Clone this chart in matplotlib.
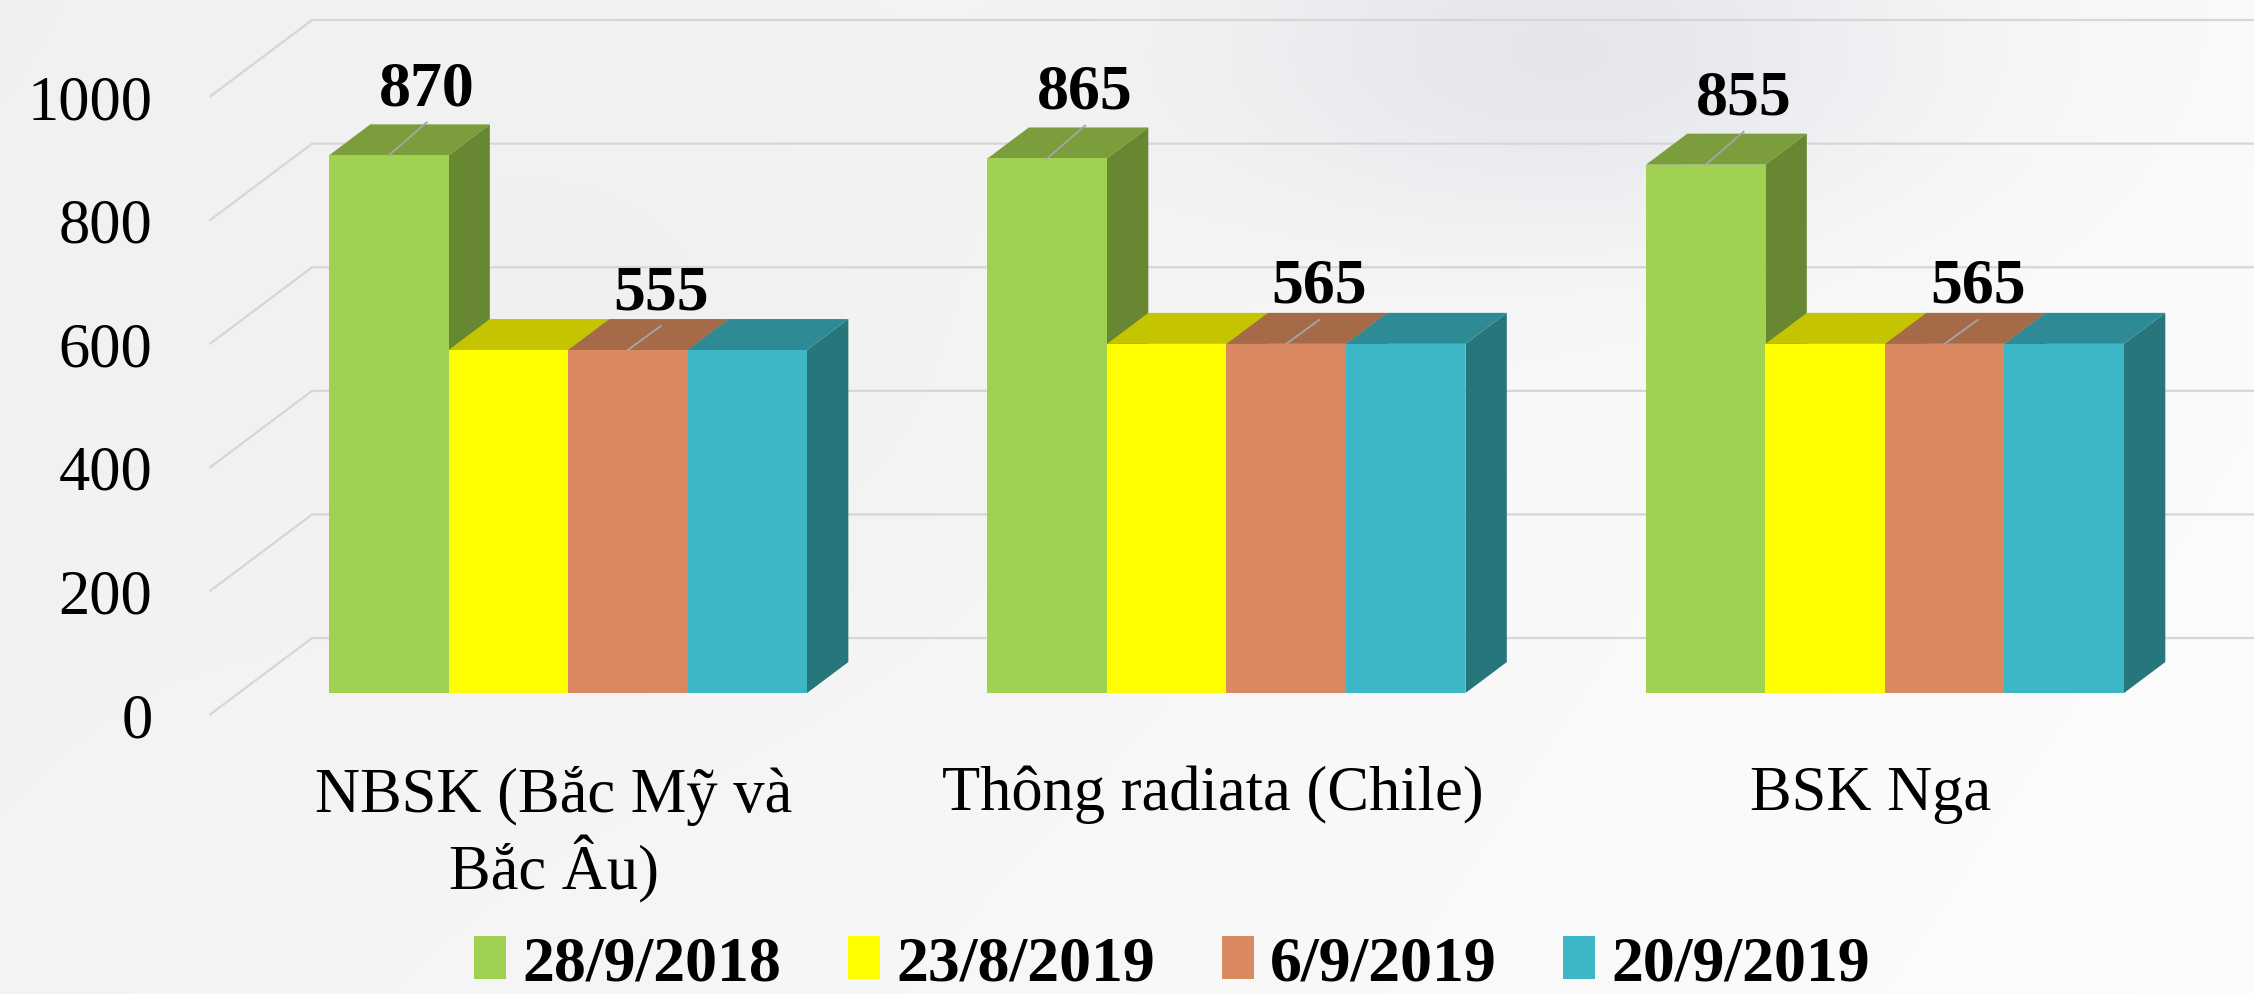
import numpy as np
import matplotlib
matplotlib.use('Agg')
import matplotlib.pyplot as plt
from matplotlib.patches import Polygon, Patch
from matplotlib.font_manager import FontProperties

# ---------------- data ----------------
categories = ['NBSK (Bắc Mỹ và\nBắc Âu)', 'Thông radiata (Chile)', 'BSK Nga']
series_labels = ['28/9/2018', '23/8/2019', '6/9/2019', '20/9/2019']
s_28_9_2018 = [870, 865, 855]
s_23_8_2019 = [555, 565, 565]
s_6_9_2019 = [555, 565, 565]
s_20_9_2019 = [555, 565, 565]
series_values = [s_28_9_2018, s_23_8_2019, s_6_9_2019, s_20_9_2019]
labelled_series = [0, 2]
yticks = [0, 200, 400, 600, 800, 1000]

# ---------------- style ----------------
front_cols = ['#a0d150', '#ffff00', '#d9885f', '#3db7c6']
top_cols = ['#7b9d3b', '#c4c400', '#a56a47', '#2e8a94']
side_cols = ['#678733', '#b5b500', '#8f5a3b', '#26767c']
# leader line end offsets (pixels right, pixels up) per labelled series
leader_px = {0: (38, 33), 2: (33, 24)}
SERIF = 'Liberation Serif'

W_PX, H_PX = 2254, 994
fig = plt.figure(figsize=(W_PX / 100, H_PX / 100), dpi=100)

# background
bg = fig.add_axes([0, 0, 1, 1], zorder=0)
gx, gy = np.meshgrid(np.linspace(0, 1, 240), np.linspace(0, 1, 110))
lum = 0.945 + 0.035 * gx + 0.01 * gy
blob = np.exp(-(((gx - 0.70) / 0.16) ** 2 + ((gy - 0.05) / 0.18) ** 2))
blob2 = np.exp(-(((gx - 0.30) / 0.20) ** 2 + ((gy - 0.35) / 0.35) ** 2))
img = np.stack([lum - 0.07 * blob - 0.012 * blob2,
                lum - 0.065 * blob - 0.014 * blob2,
                lum - 0.045 * blob - 0.016 * blob2], axis=-1)
img = np.clip(img, 0, 1)
bg.imshow(img, aspect='auto', extent=[0, 1, 1, 0], interpolation='bicubic')
bg.axis('off')

ax = fig.add_axes([0, 0, 1, 1], zorder=1)
ax.patch.set_alpha(0)
X_LIM = (-0.8626, 2.5604)
V_LIM = (-487, 1121.4)
ax.set_xlim(*X_LIM)
ax.set_ylim(*V_LIM)
ax.axis('off')

px_x = W_PX / (X_LIM[1] - X_LIM[0])
px_v = H_PX / (V_LIM[1] - V_LIM[0])
# oblique depth direction (per unit of depth in vertical pixels)
DX = 1.333 / px_x
DV = 1.0 / px_v
D_FLOOR, D_BAR, D_WALL = -22, 31, 55


def P(x, v, d):
    return (x + d * DX, v + d * DV)


# gridlines (front-left diagonal + back wall)
x_left = -0.5
for v in yticks:
    a = P(x_left, v, D_FLOOR)
    b = P(x_left, v, D_WALL)
    ax.plot([a[0], b[0], X_LIM[1] + 0.2], [a[1], b[1], b[1]],
            color='#d6d6d6', lw=1.6, zorder=1, solid_capstyle='butt')
    ax.text(a[0] - 57 / px_x, a[1], str(v), ha='right', va='center_baseline',
            fontsize=45, family=SERIF, color='black', zorder=5)

# bars
n = len(series_values)
bw = 119.5 / px_x
for ci in range(len(categories)):
    for k in range(n):
        h = series_values[k][ci]
        x0 = ci + (k - n / 2) * bw
        x1 = x0 + bw
        z = 3 + 3 * k
        side = Polygon([P(x1, 0, 0), P(x1, h, 0), P(x1, h, D_BAR), P(x1, 0, D_BAR)],
                       closed=True, facecolor=side_cols[k], edgecolor='none', zorder=z)
        top = Polygon([P(x0, h, 0), P(x1, h, 0), P(x1, h, D_BAR), P(x0, h, D_BAR)],
                      closed=True, facecolor=top_cols[k], edgecolor='none', zorder=z + 1)
        ax.add_patch(side)
        ax.add_patch(top)
        ax.bar(x0, h, width=bw, align='edge', color=front_cols[k],
               edgecolor='none', zorder=z + 2)
        if k in labelled_series:
            xc = x0 + bw / 2
            ox, oy = leader_px[k]
            ex, ey = xc + ox / px_x, h + oy / px_v
            ax.plot([xc, ex], [h, ey], color='#a6a6a6', lw=1.3, zorder=40)
            ax.text(ex, ey + 17 / px_v, str(h), ha='center', va='baseline',
                    fontsize=46, fontweight='bold', family=SERIF, zorder=41)

# category labels
for ci, lab in enumerate(categories):
    ax.text(ci - 14 / px_x, -118, lab, ha='center', va='top', fontsize=45,
            family=SERIF, linespacing=1.17, zorder=5)

# legend
handles = [Patch(facecolor=front_cols[k], edgecolor='none') for k in range(n)]
fig.legend(handles, series_labels, loc='center', bbox_to_anchor=(0.52, 0.029),
           ncol=4, frameon=False,
           prop=FontProperties(family=SERIF, weight='bold', size=46),
           handlelength=0.5, handleheight=0.65, handletextpad=0.25,
           columnspacing=1.05, borderpad=0)

fig.savefig('out.png', dpi=100)
